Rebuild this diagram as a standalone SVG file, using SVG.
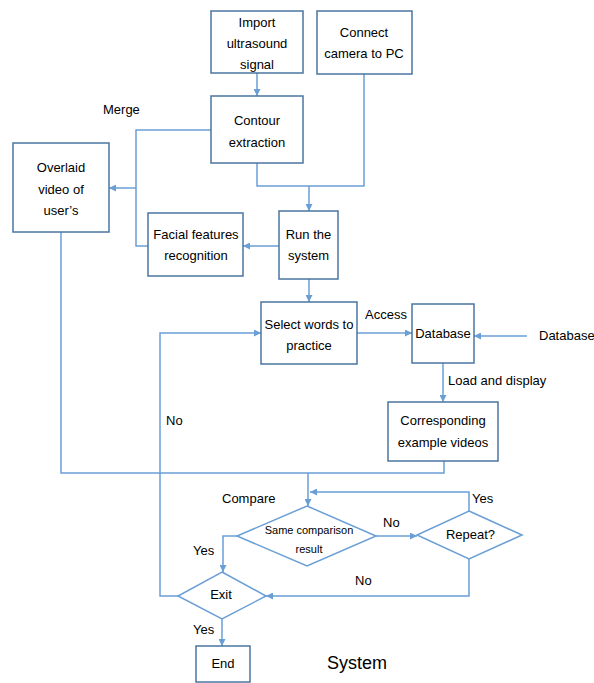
<svg xmlns="http://www.w3.org/2000/svg" width="594" height="683" viewBox="0 0 594 683">
<defs>
<marker id="ah" viewBox="0 0 10 10" refX="10" refY="5" markerWidth="7" markerHeight="7" markerUnits="userSpaceOnUse" orient="auto">
<path d="M0,0 L10,5 L0,10 Z" fill="#6A9FD6"/>
</marker>
<style>
.box{fill:#fff;stroke:#4A76A0;stroke-width:1.5}
.dia{fill:#fff;stroke:#6A9FD6;stroke-width:1.5}
.ln{fill:none;stroke:#6A9FD6;stroke-width:1.5}
.ar{fill:none;stroke:#6A9FD6;stroke-width:1.5;marker-end:url(#ah)}
text{font-family:"Liberation Sans",Arial,sans-serif;font-size:13px;fill:#000}
.c{text-anchor:middle}
.s{font-size:11px}
.big{font-size:18px}
</style>
</defs>
<rect width="594" height="683" fill="#fff"/>
<g id="connectors">
<path class="ar" d="M257,73 V96"/>
<path class="ln" d="M211,130 H136 V246 H148"/>
<path class="ar" d="M136,188 H109"/>
<path class="ln" d="M257,163 V186 H364 V74"/>
<path class="ar" d="M309,186 V211"/>
<path class="ar" d="M279,246 H243"/>
<path class="ar" d="M309,279 V302"/>
<path class="ar" d="M357,333 H412"/>
<path class="ar" d="M527,336 H474"/>
<path class="ar" d="M443,363 V402"/>
<path class="ln" d="M61,232 V473 H444 V461"/>
<path class="ar" d="M308,473 V506"/>
<path class="ar" d="M469,511 V492 H310"/>
<path class="ar" d="M376,536 H417"/>
<path class="ar" d="M469,559 V596 H266"/>
<path class="ar" d="M237,536 H223 V572"/>
<path class="ar" d="M178,596 H160 V333 H261"/>
<path class="ar" d="M222,619 V646"/>
</g>
<g id="import"><rect class="box" x="211" y="11" width="92" height="62"/>
<text class="c" x="257" y="26.5">Import</text><text class="c" x="257" y="48">ultrasound</text><text class="c" x="257" y="69">signal</text></g>
<g id="camera"><rect class="box" x="317" y="11" width="95" height="63"/>
<text class="c" x="364" y="37">Connect</text><text class="c" x="364" y="58">camera to PC</text></g>
<g id="contour"><rect class="box" x="211" y="96" width="92" height="67"/>
<text class="c" x="257" y="125">Contour</text><text class="c" x="257" y="146.5">extraction</text></g>
<g id="overlaid"><rect class="box" x="13" y="143" width="96" height="89"/>
<text class="c" x="61" y="172">Overlaid</text><text class="c" x="61" y="194">video of</text><text class="c" x="61" y="215">user’s</text></g>
<g id="facial"><rect class="box" x="148" y="213" width="95" height="63"/>
<text class="c" x="196" y="239">Facial features</text><text class="c" x="196" y="260">recognition</text></g>
<g id="run"><rect class="box" x="279" y="211" width="59" height="68"/>
<text class="c" x="308.5" y="239">Run the</text><text class="c" x="308.5" y="260">system</text></g>
<g id="select"><rect class="box" x="261" y="302" width="96" height="62"/>
<text class="c" x="309" y="329">Select words to</text><text class="c" x="309" y="350">practice</text></g>
<g id="database"><rect class="box" x="412" y="304" width="62" height="59"/>
<text class="c" x="443" y="338">Database</text></g>
<g id="corresponding"><rect class="box" x="388" y="402" width="110" height="59"/>
<text class="c" x="443" y="425">Corresponding</text><text class="c" x="443" y="446.5">example videos</text></g>
<g id="same"><path class="dia" d="M307,506 L376,536 L307,566 L237,536 Z"/>
<text class="c s" x="309" y="534">Same comparison</text><text class="c s" x="309" y="553">result</text></g>
<g id="repeat"><path class="dia" d="M469,511 L522,535 L469,559 L417,535 Z"/>
<text class="c" x="470.5" y="539">Repeat?</text></g>
<g id="exit"><path class="dia" d="M222,572 L266,596 L222,619 L178,596 Z"/>
<text class="c" x="221" y="599">Exit</text></g>
<g id="end"><rect class="box" x="196" y="646" width="54" height="36"/>
<text class="c" x="223" y="668">End</text></g>
<g id="labels">
<text x="103" y="114">Merge</text>
<text x="365" y="319">Access</text>
<text x="539" y="340">Database</text>
<text x="448" y="385">Load and display</text>
<text x="166" y="425">No</text>
<text x="222" y="503">Compare</text>
<text x="472" y="503">Yes</text>
<text x="383" y="527">No</text>
<text x="193" y="555">Yes</text>
<text x="355" y="585">No</text>
<text x="193" y="634">Yes</text>
<text class="big" x="327" y="669">System</text>
</g>
</svg>
